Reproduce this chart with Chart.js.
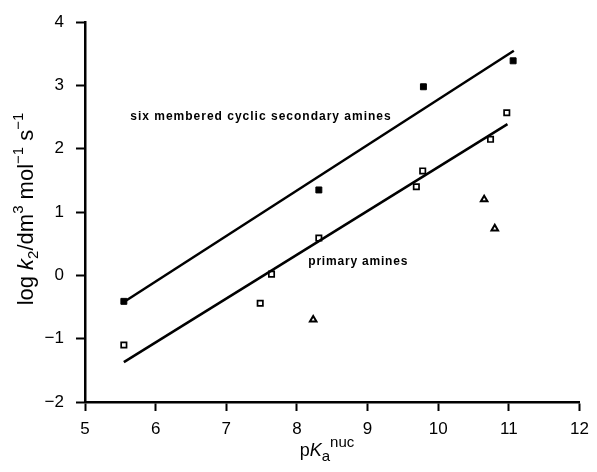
<!DOCTYPE html>
<html>
<head>
<meta charset="utf-8">
<script src="https://cdn.jsdelivr.net/npm/chart.js@4.4.1/dist/chart.umd.min.js"></script>
<style>
    html, body { margin: 0; padding: 0; background: #ffffff; }
</style>
</head>
<body>
<canvas id="rateChart" width="597" height="472"></canvas>
<script>
// values
var secondaryPKa  = [5.55, 8.31, 9.79, 11.06];
var secondaryLogK = [-0.41, 1.35, 2.98, 3.39];

var primaryPKa  = [5.55, 7.48, 7.64, 8.31, 9.69, 9.78, 10.74, 10.97];
var primaryLogK = [-1.10, -0.44, 0.02, 0.59, 1.40, 1.65, 2.15, 2.57];

var otherPKa  = [8.23, 10.65, 10.80];
var otherLogK = [-0.70, 1.20, 0.74];

// correlation lines, end points
var secondaryFitPKa  = [5.55, 11.07];
var secondaryFitLogK = [-0.42, 3.55];
var primaryFitPKa    = [5.55, 10.98];
var primaryFitLogK   = [-1.37, 2.39];

var xTickValues = [5, 6, 7, 8, 9, 10, 11, 12];
var yTickValues = [-2, -1, 0, 1, 2, 3, 4];

function toPoints(xs, ys) {
    return xs.map(function(x, i) { return { x: x, y: ys[i] }; });
}

// draws text made of pieces with different fonts / baseline shifts
function drawRich(ctx, parts, cx, baseY) {
    var total = 0;
    parts.forEach(function(p) {
        ctx.font = p.font;
        p.w = ctx.measureText(p.text).width;
        total += p.w;
    });
    var x = cx - total / 2;
    parts.forEach(function(p) {
        ctx.font = p.font;
        ctx.fillText(p.text, x, baseY + (p.dy || 0));
        x += p.w;
    });
}

var FONT = '"Liberation Sans", Arial, Helvetica, sans-serif';

var textPlugin = {
    id: 'textPlugin',
    afterDraw: function(chart) {
        var ctx = chart.ctx;
        var xs = chart.scales.x, ys = chart.scales.y;
        ctx.save();
        ctx.fillStyle = '#000';
        ctx.textAlign = 'left';
        ctx.textBaseline = 'alphabetic';

        // in-plot labels
        ctx.font = 'bold 12px ' + FONT;
        ctx.letterSpacing = '1px';
        ctx.fillText('six membered cyclic secondary amines', xs.getPixelForValue(5.64), ys.getPixelForValue(2.46));
        ctx.letterSpacing = '0.8px';
        ctx.fillText('primary amines', xs.getPixelForValue(8.16), ys.getPixelForValue(0.16));
        ctx.letterSpacing = '0px';

        // x axis title
        drawRich(ctx, [
            { text: 'p', font: '18px ' + FONT },
            { text: 'K', font: 'italic 18px ' + FONT },
            { text: 'a', font: '15px ' + FONT, dy: 5 },
            { text: 'nuc', font: '15px ' + FONT, dy: -9 }
        ], 327, 456);

        // y axis title
        ctx.translate(33, 209);
        ctx.rotate(-Math.PI / 2);
        drawRich(ctx, [
            { text: 'log ', font: '22px ' + FONT },
            { text: 'k', font: 'italic 22px ' + FONT },
            { text: '2', font: '15px ' + FONT, dy: 5 },
            { text: '/dm', font: '22px ' + FONT },
            { text: '3', font: '15px ' + FONT, dy: -10 },
            { text: ' mol', font: '22px ' + FONT },
            { text: '\u22121', font: '15px ' + FONT, dy: -10 },
            { text: ' s', font: '22px ' + FONT },
            { text: '\u22121', font: '15px ' + FONT, dy: -10 }
        ], 0, 0);
        ctx.restore();
    }
};

var ctx = document.getElementById('rateChart');
new Chart(ctx, {
    type: 'scatter',
    data: {
        datasets: [
            {
                label: 'secondary fit',
                data: toPoints(secondaryFitPKa, secondaryFitLogK),
                showLine: true,
                borderColor: '#000',
                borderWidth: 2.5,
                pointRadius: 0
            },
            {
                label: 'primary fit',
                data: toPoints(primaryFitPKa, primaryFitLogK),
                showLine: true,
                borderColor: '#000',
                borderWidth: 2.5,
                pointRadius: 0
            },
            {
                label: 'six membered cyclic secondary amines',
                data: toPoints(secondaryPKa, secondaryLogK),
                pointStyle: 'rect',
                pointRadius: 4.2,
                backgroundColor: '#000',
                borderColor: '#000',
                borderWidth: 1
            },
            {
                label: 'primary amines',
                data: toPoints(primaryPKa, primaryLogK),
                pointStyle: 'rect',
                pointRadius: 3.8,
                backgroundColor: '#fff',
                borderColor: '#000',
                borderWidth: 1.7
            },
            {
                label: 'other',
                data: toPoints(otherPKa, otherLogK),
                pointStyle: 'triangle',
                pointRadius: 3.8,
                backgroundColor: '#fff',
                borderColor: '#000',
                borderWidth: 2
            }
        ]
    },
    options: {
        responsive: false,
        animation: false,
        devicePixelRatio: 1,
        layout: {
            padding: { left: 0, right: 12, top: 19, bottom: 0 }
        },
        plugins: {
            legend: { display: false },
            tooltip: { enabled: false }
        },
        scales: {
            x: {
                type: 'linear',
                min: 5,
                max: 12,
                afterBuildTicks: function(axis) {
                    axis.ticks = xTickValues.map(function(v) { return { value: v }; });
                },
                afterFit: function(axis) { axis.height = 70; },
                border: { display: true, color: '#000', width: 2.5 },
                grid: {
                    drawOnChartArea: false,
                    drawTicks: true,
                    tickLength: 9,
                    tickWidth: 2,
                    tickColor: '#000'
                },
                ticks: {
                    color: '#000',
                    padding: 8,
                    maxRotation: 0,
                    font: { family: FONT, size: 17 }
                }
            },
            y: {
                type: 'linear',
                min: -2,
                max: 4,
                afterBuildTicks: function(axis) {
                    axis.ticks = yTickValues.map(function(v) { return { value: v }; });
                },
                afterFit: function(axis) { axis.width = 85; },
                border: { display: true, color: '#000', width: 2.5 },
                grid: {
                    drawOnChartArea: false,
                    drawTicks: true,
                    tickLength: 9,
                    tickWidth: 2,
                    tickColor: '#000'
                },
                ticks: {
                    color: '#000',
                    padding: 12,
                    font: { family: FONT, size: 17 },
                    callback: function(value) {
                        return String(value).replace('-', '\u2212');
                    }
                }
            }
        }
    },
    plugins: [textPlugin]
});
</script>
</body>
</html>
